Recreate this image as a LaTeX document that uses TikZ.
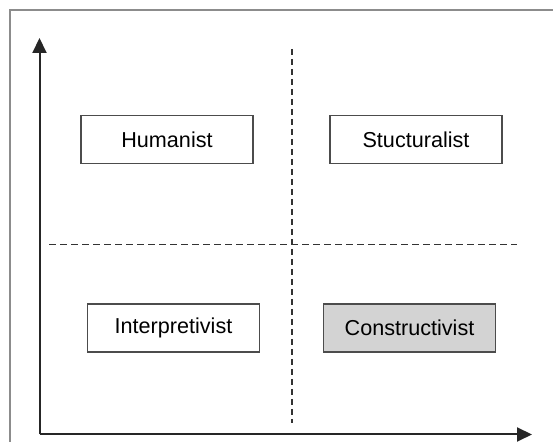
\documentclass[tikz,border=0pt]{standalone}
\usepackage{fontspec}
\setmainfont{Liberation Sans}
\usetikzlibrary{arrows.meta}
\definecolor{framegray}{HTML}{8C8C8C}
\definecolor{boxgray}{HTML}{D3D3D3}
\begin{document}
\begin{tikzpicture}[x=0.5pt, y=-0.5pt, quad/.style={rectangle, draw=black!70,
      line width=0.8pt, minimum width=86pt, minimum height=24pt, inner sep=0pt,
      font=\fontsize{10.8}{12}\selectfont}]
    \useasboundingbox (0,0) rectangle (553,442);
    \draw[framegray, line width=0.6pt] (10,442) -- (10,10) -- (553,10);
    % axes
    \coordinate (o) at (39.5,434.5);
    \coordinate (ytip) at (39.5,38);
    \coordinate (xtip) at (532,434.5);
    \draw[black!85, line width=1pt, -{Triangle[length=7.5pt, width=7pt]}] (o) -- (ytip);
    \draw[black!85, line width=1pt, -{Triangle[length=7.5pt, width=7pt]}] (o) -- (xtip);
    % quadrant lines
    \coordinate (vtop) at (292,49);
    \coordinate (vbot) at (292,423);
    \coordinate (hl) at (49,244.5);
    \coordinate (hr) at (517,244.5);
    \draw[black!80, line width=0.7pt, dash pattern=on 3pt off 2pt] (vtop) -- (vbot);
    \draw[black!80, line width=0.7pt, dash pattern=on 3.5pt off 2pt] (hl) -- (hr);
    \node[quad] (hum) at (167,139.5) {Humanist};
    \node[quad] (stu) at (416,139.5) {Stucturalist};
    \node[quad] (int) at (173.5,328) {Interpretivist};
    \node[quad, fill=boxgray] (con) at (409.5,328) {Constructivist};
  \end{tikzpicture}
\end{document}
